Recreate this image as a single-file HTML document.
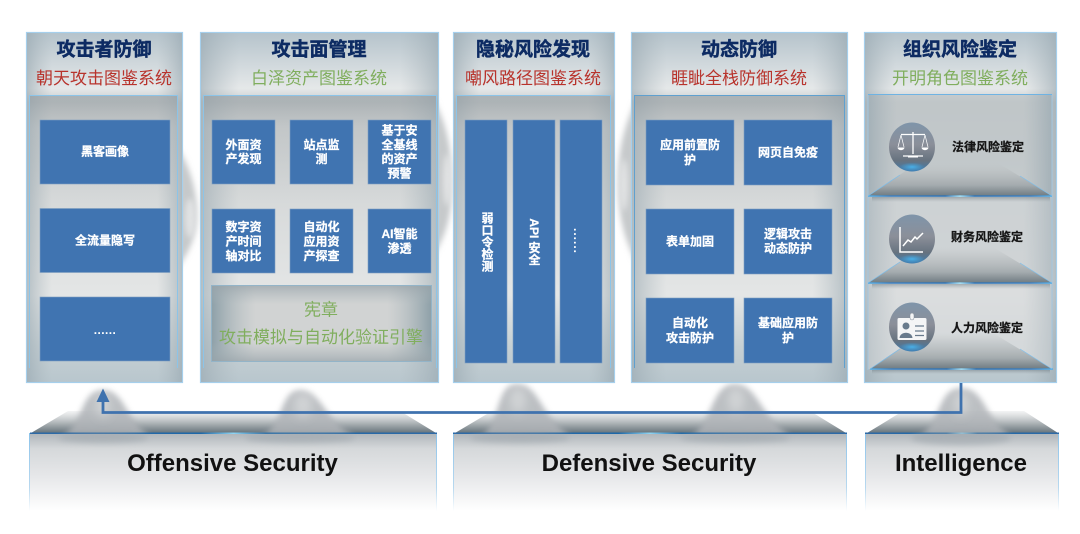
<!DOCTYPE html>
<html lang="zh"><head><meta charset="utf-8">
<style>
html,body{margin:0;padding:0;background:#fff;width:1080px;height:534px;overflow:hidden}
svg{display:block}
text{font-family:"Liberation Sans","Noto Sans CJK SC",sans-serif;text-anchor:middle;dominant-baseline:central}
.h{font-size:19px;font-weight:700;fill:#0d2b63;stroke:#0d2b63;stroke-width:.45}
.r{font-size:17px;fill:#b8332c}
.g{font-size:17px;fill:#80ae5e}
.w{font-size:12px;font-weight:700;fill:#fff;stroke:#fff;stroke-width:.25}
.k{font-size:12px;font-weight:700;fill:#151515;stroke:#151515;stroke-width:.25}
.e{font-size:24px;font-weight:700;fill:#111;dominant-baseline:auto}
.v{writing-mode:vertical-rl;font-size:12px;font-weight:700;fill:#fff;stroke:#fff;stroke-width:.25}
.b{fill:#4074b1;stroke:#7f9fc0;stroke-width:.6}
</style></head><body>
<svg width="1080" height="534" viewBox="0 0 1080 534" xmlns="http://www.w3.org/2000/svg">
<defs>
<filter id="b5" x="-60%" y="-60%" width="220%" height="220%"><feGaussianBlur stdDeviation="5"/></filter>
<filter id="b3" x="-60%" y="-60%" width="220%" height="220%"><feGaussianBlur stdDeviation="3"/></filter>
<linearGradient id="pv" x1="0" y1="0" x2="0" y2="1">
<stop offset="0" stop-color="#b5c3cb"/><stop offset=".16" stop-color="#e5e8e9"/><stop offset=".2" stop-color="#c8cccd"/><stop offset=".75" stop-color="#e4e6e6"/><stop offset=".9" stop-color="#c6d0d4"/><stop offset="1" stop-color="#b8c6cd"/>
</linearGradient>
<linearGradient id="ph" x1="0" y1="0" x2="1" y2="0">
<stop offset="0" stop-color="#96a6af" stop-opacity=".6"/><stop offset=".16" stop-color="#a9b5bb" stop-opacity="0"/><stop offset=".84" stop-color="#a9b5bb" stop-opacity="0"/><stop offset="1" stop-color="#96a6af" stop-opacity=".6"/>
</linearGradient>
<linearGradient id="it" x1="0" y1="0" x2="0" y2="1">
<stop offset="0" stop-color="#8f989d" stop-opacity=".6"/><stop offset=".12" stop-color="#a7adb0" stop-opacity=".25"/><stop offset=".4" stop-color="#a7adb0" stop-opacity="0"/>
</linearGradient>
<linearGradient id="st" x1="0" y1="0" x2="0" y2="1">
<stop offset="0" stop-color="#c4c8cb" stop-opacity=".2"/><stop offset=".55" stop-color="#aeb4b7"/><stop offset="1" stop-color="#66737b"/>
</linearGradient>
<linearGradient id="pf" x1="0" y1="0" x2="0" y2="1">
<stop offset="0" stop-color="#c4c8cb" stop-opacity="0"/><stop offset=".3" stop-color="#bcc1c3" stop-opacity=".7"/><stop offset=".7" stop-color="#a4abae"/><stop offset="1" stop-color="#6f7b82"/>
</linearGradient>
<linearGradient id="ft" x1="0" y1="0" x2="0" y2="1">
<stop offset="0" stop-color="#aeb4b9"/><stop offset=".2" stop-color="#d5d8da"/><stop offset=".55" stop-color="#e6e7e9"/><stop offset="1" stop-color="#ffffff"/>
</linearGradient>
<linearGradient id="fe" x1="0" y1="0" x2="0" y2="1">
<stop offset="0" stop-color="#8cc3ea"/><stop offset=".7" stop-color="#b7d8ef"/><stop offset="1" stop-color="#fff"/>
</linearGradient>
<linearGradient id="gl" x1="0" y1="0" x2="1" y2="0">
<stop offset="0" stop-color="#2f6aa6"/><stop offset=".42" stop-color="#1d68a8"/><stop offset=".5" stop-color="#8fd4f2"/><stop offset=".58" stop-color="#1d68a8"/><stop offset="1" stop-color="#2f6aa6"/>
</linearGradient>
<linearGradient id="gl2" x1="0" y1="0" x2="1" y2="0">
<stop offset="0" stop-color="#55aee6"/><stop offset=".12" stop-color="#3c7fc0"/><stop offset=".42" stop-color="#2f73b4"/><stop offset=".5" stop-color="#9adcf6"/><stop offset=".58" stop-color="#2f73b4"/><stop offset=".88" stop-color="#3c7fc0"/><stop offset="1" stop-color="#55aee6"/>
</linearGradient>
<linearGradient id="ic" x1="0" y1="0" x2="0" y2="1">
<stop offset="0" stop-color="#7f95aa"/><stop offset=".45" stop-color="#8b8f99"/><stop offset=".78" stop-color="#66727f"/><stop offset="1" stop-color="#3f7cb0"/>
</linearGradient>
<radialGradient id="ig" cx=".5" cy=".5" r=".5"><stop offset="0" stop-color="#4ab0e8"/><stop offset="1" stop-color="#41a7e2" stop-opacity="0"/></radialGradient>
<linearGradient id="sd" x1="0" y1="0" x2="0" y2="1"><stop offset="0" stop-color="#77838a" stop-opacity=".55"/><stop offset="1" stop-color="#8d989d" stop-opacity="0"/></linearGradient>
<linearGradient id="bh" x1="0" y1="0" x2="1" y2="0"><stop offset="0" stop-color="#869aa3" stop-opacity=".9"/><stop offset=".2" stop-color="#a9b5ba" stop-opacity="0"/><stop offset=".8" stop-color="#a9b5ba" stop-opacity="0"/><stop offset="1" stop-color="#869aa3" stop-opacity=".9"/></linearGradient>
<linearGradient id="bw" x1="0" y1="0" x2="0" y2="1"><stop offset="0" stop-color="#98a3a9" stop-opacity=".7"/><stop offset=".25" stop-color="#a9b5ba" stop-opacity="0"/><stop offset=".75" stop-color="#a9b5ba" stop-opacity="0"/><stop offset="1" stop-color="#98a3a9" stop-opacity=".7"/></linearGradient>
</defs>

<!-- gap arcs behind panels -->
<g fill="#c6c9cb" filter="url(#b3)">
<path d="M178 148C192 170 197 195 197 215C197 235 190 250 178 268Z"/>
<path d="M434 100C450 130 452 160 452 185C452 210 448 232 434 255Z"/>
<path d="M636 100C620 135 618 160 618 185C618 210 622 235 636 262Z"/>
</g>
<g fill="#eeeff0" opacity=".7" filter="url(#b3)">
<ellipse cx="190" cy="218" rx="5" ry="20"/>
<ellipse cx="447" cy="180" rx="4" ry="26"/>
<ellipse cx="624" cy="185" rx="4" ry="26"/>
</g>

<!-- stage trapezoids -->
<path d="M31 433L68 411H400L436 433Z" fill="url(#st)"/>
<path d="M455 433L492 411H810L846 433Z" fill="url(#st)"/>
<path d="M867 433L903 411H1024L1058 433Z" fill="url(#st)"/>

<!-- bumps above stage -->
<g fill="#b0b4b8" opacity=".85" filter="url(#b3)">
<path d="M62 436C84 424 80 390 103 390C126 390 126 424 152 436Z"/>
<path d="M262 436C284 424 280 390 300 390C322 390 326 424 356 436Z"/>
<path d="M482 436C502 418 496 384 517 384C540 384 540 418 572 436Z"/>
<path d="M692 436C714 418 712 384 735 384C758 384 760 418 792 436Z"/>
<path d="M920 436C942 420 938 388 961 388C986 388 984 420 1012 436Z"/>
</g>
<g fill="#e4e5e6" opacity=".55" filter="url(#b5)">
<ellipse cx="103" cy="405" rx="7" ry="12"/>
<ellipse cx="303" cy="405" rx="9" ry="12"/>
<ellipse cx="518" cy="400" rx="8" ry="13"/>
<ellipse cx="736" cy="400" rx="8" ry="13"/>
<ellipse cx="961" cy="403" rx="7" ry="12"/>
</g>

<!-- stage fronts -->
<rect x="29.500" y="433" width="407" height="78" fill="url(#ft)"/>
<rect x="453" y="433" width="393" height="78" fill="url(#ft)"/>
<rect x="865" y="433" width="193" height="78" fill="url(#ft)"/>
<g fill="url(#fe)">
<rect x="29" y="433" width="1" height="78"/><rect x="436" y="433" width="1" height="78"/>
<rect x="453" y="433" width="1" height="78"/><rect x="846" y="433" width="1" height="78"/>
<rect x="865" y="433" width="1" height="78"/><rect x="1058" y="433" width="1" height="78"/>
</g>
<rect x="30" y="432.500" width="407" height="1.500" fill="url(#gl)"/>
<rect x="453" y="432.500" width="394" height="1.500" fill="url(#gl)"/>
<rect x="865" y="432.500" width="194" height="1.500" fill="url(#gl)"/>
<g fill="#9ca4aa" opacity=".55" filter="url(#b3)">
<ellipse cx="103" cy="438" rx="45" ry="5"/><ellipse cx="300" cy="438" rx="55" ry="5"/>
<ellipse cx="520" cy="438" rx="50" ry="5"/><ellipse cx="735" cy="438" rx="55" ry="5"/><ellipse cx="961" cy="438" rx="50" ry="7"/>
</g>

<!-- panels -->
<g stroke="#a5cfec" stroke-width="1.200">
<rect x="26.500" y="32.500" width="156" height="350" fill="url(#pv)"/>
<rect x="200.500" y="32.500" width="238" height="350" fill="url(#pv)"/>
<rect x="453.500" y="32.500" width="161" height="350" fill="url(#pv)"/>
<rect x="631.500" y="32.500" width="216" height="350" fill="url(#pv)"/>
<rect x="864.500" y="32.500" width="192" height="350" fill="url(#pv)"/>
</g>
<g fill="url(#ph)">
<rect x="27" y="33" width="155" height="349"/><rect x="201" y="33" width="237" height="349"/><rect x="454" y="33" width="160" height="349"/><rect x="632" y="33" width="215" height="349"/><rect x="865" y="33" width="191" height="349"/>
</g>
<g fill="url(#it)">
<rect x="29.500" y="95.500" width="148" height="270"/>
<rect x="203.500" y="95.500" width="233" height="270"/>
<rect x="456.500" y="95.500" width="154" height="270"/>
<rect x="634.500" y="95.500" width="210" height="270"/>
</g>
<g fill="none" stroke="#8cc4e8" stroke-width="1">
<path d="M29.500 368V95.500H177.500V368"/>
<path d="M203.500 368V95.500H436.500V368"/>
<path d="M456.500 368V95.500H610.500V368"/>
<path d="M634.500 368V95.500H844.500V368" stroke="#5fa0cf"/>
</g>

<!-- titles -->
<text class="h" x="104" y="50">攻击者防御</text><text class="r" x="104" y="78.500">朝天攻击图鉴系统</text>
<text class="h" x="319" y="50">攻击面管理</text><text class="g" x="319" y="78.500">白泽资产图鉴系统</text>
<text class="h" x="533" y="50">隐秘风险发现</text><text class="r" x="533" y="78.500">嘲风路径图鉴系统</text>
<text class="h" x="739" y="50">动态防御</text><text class="r" x="739" y="78.500">睚眦全栈防御系统</text>
<text class="h" x="960" y="50">组织风险鉴定</text><text class="g" x="960" y="78.500">开明角色图鉴系统</text>

<!-- panel 1 -->
<rect class="b" x="40" y="120" width="130" height="64"/><rect class="b" x="40" y="208.500" width="130" height="64"/><rect class="b" x="40" y="297" width="130" height="64"/>
<text class="w" x="105" y="151.500">黑客画像</text><text class="w" x="105" y="240.500">全流量隐写</text>
<text x="105" y="330" style="font-size:12px;font-weight:700;fill:#fff;letter-spacing:.4px">......</text>

<!-- panel 2 -->
<g>
<rect class="b" x="212" y="120" width="63" height="64"/><rect class="b" x="290" y="120" width="63" height="64"/><rect class="b" x="368" y="120" width="63" height="64"/>
<rect class="b" x="212" y="209" width="63" height="64"/><rect class="b" x="290" y="209" width="63" height="64"/><rect class="b" x="368" y="209" width="63" height="64"/>
</g>
<text class="w" x="243.500" y="145">外面资</text><text class="w" x="243.500" y="159">产发现</text>
<text class="w" x="321.500" y="145">站点监</text><text class="w" x="321.500" y="159">测</text>
<text class="w" x="399.500" y="130.500">基于安</text><text class="w" x="399.500" y="145">全基线</text><text class="w" x="399.500" y="159">的资产</text><text class="w" x="399.500" y="173.500">预警</text>
<text class="w" x="243.500" y="227">数字资</text><text class="w" x="243.500" y="241.500">产时间</text><text class="w" x="243.500" y="256">轴对比</text>
<text class="w" x="321.500" y="227">自动化</text><text class="w" x="321.500" y="241.500">应用资</text><text class="w" x="321.500" y="256">产探查</text>
<text class="w" x="399.500" y="234">AI智能</text><text class="w" x="399.500" y="248.500">渗透</text>
<rect x="211.500" y="285.500" width="220" height="76" fill="#d1d3d3"/>
<rect x="211.500" y="285.500" width="220" height="76" fill="url(#bh)"/>
<rect x="211.500" y="285.500" width="220" height="76" fill="url(#bw)" stroke="#93b4c8"/>
<text class="g" x="321" y="310">宪章</text><text class="g" x="321" y="337.500">攻击模拟与自动化验证引擎</text>

<!-- panel 3 -->
<rect class="b" x="465" y="120" width="42" height="243"/><rect class="b" x="513" y="120" width="42" height="243"/><rect class="b" x="560" y="120" width="42" height="243"/>
<text class="v" x="487" y="242">弱口令检测</text>
<text class="v" x="534" y="242">API 安全</text>
<text class="v" x="578" y="241" style="letter-spacing:1px;stroke:none">......</text>

<!-- panel 4 -->
<rect class="b" x="646" y="120" width="88" height="65"/><rect class="b" x="744" y="120" width="88" height="65"/>
<rect class="b" x="646" y="209" width="88" height="65"/><rect class="b" x="744" y="209" width="88" height="65"/>
<rect class="b" x="646" y="298" width="88" height="65"/><rect class="b" x="744" y="298" width="88" height="65"/>
<text class="w" x="690" y="145">应用前置防</text><text class="w" x="690" y="160">护</text>
<text class="w" x="788" y="152.500">网页自免疫</text>
<text class="w" x="690" y="241.500">表单加固</text>
<text class="w" x="788" y="234">逻辑攻击</text><text class="w" x="788" y="248.500">动态防护</text>
<text class="w" x="690" y="323">自动化</text><text class="w" x="690" y="338">攻击防护</text>
<text class="w" x="788" y="323">基础应用防</text><text class="w" x="788" y="338">护</text>

<!-- panel 5 -->
<rect x="868" y="94.500" width="184" height="102" fill="#bcc3c6" opacity=".7"/>
<rect x="868" y="94.500" width="184" height="102" fill="url(#ph)"/>
<rect x="868" y="197" width="184" height="86" fill="#cbd0d2" opacity=".8"/>
<rect x="868" y="197" width="184" height="86" fill="url(#ph)" opacity=".6"/>
<rect x="868" y="284" width="184" height="85" fill="#d8dbdc" opacity=".8"/>
<rect x="868" y="284" width="184" height="85" fill="url(#ph)" opacity=".5"/>
<g fill="none" stroke="#a2c6df" stroke-width="1"><path d="M868 94.500V370M1052 94.500V370"/></g>
<path d="M868 94.500H1052" stroke="#6fb3e3" stroke-width="1"/>
<!-- platforms -->
<g>
<path d="M868 196L922 160H993L1052 196Z" fill="url(#pf)"/>
<path d="M868 283L922 247H993L1052 283Z" fill="url(#pf)"/>
<path d="M870 369L922 333H993L1052 369Z" fill="url(#pf)"/>
<rect x="872" y="197" width="178" height="5" fill="url(#sd)"/>
<rect x="872" y="284" width="178" height="5" fill="url(#sd)"/>
<rect x="872" y="370" width="178" height="4" fill="url(#sd)"/>
<rect x="868" y="195.300" width="184" height="1.500" fill="url(#gl2)"/>
<rect x="868" y="282.300" width="184" height="1.500" fill="url(#gl2)"/>
<rect x="870" y="368.300" width="183" height="1.500" fill="url(#gl2)"/>
<path d="M868 196L900 175M1052 196L1020 176M868 283L900 262M1052 283L1020 263M870 369L900 349M1052 369L1020 349" stroke="#7cbdea" stroke-width=".7" fill="none"/>
</g>
<!-- icons -->
<g>
<ellipse cx="912" cy="147" rx="23" ry="24.500" fill="url(#ic)"/><ellipse cx="912" cy="167" rx="13" ry="4.500" fill="url(#ig)"/>
<ellipse cx="912" cy="239" rx="23" ry="24.500" fill="url(#ic)"/><ellipse cx="912" cy="259" rx="13" ry="4.500" fill="url(#ig)"/>
<ellipse cx="912" cy="327" rx="23" ry="24.500" fill="url(#ic)"/><ellipse cx="912" cy="347" rx="13" ry="4.500" fill="url(#ig)"/>
</g>
<!-- scale icon -->
<g stroke="#fff" fill="none" stroke-width="1.300">
<path d="M913 132V154M901 134.500H925M903 156H923" />
<path d="M901 135L898 147M901 135L904 147M925 135L922 147M925 135L928 147" stroke-width=".7"/>
<path d="M897.500 147.500H904.500C904 151 898 151 897.500 147.500ZM921.500 147.500H928.500C928 151 922 151 921.500 147.500Z" fill="#fff" stroke="none"/>
<path d="M908 156.500H918" stroke-width="2"/>
</g>
<!-- chart icon -->
<g fill="none" stroke="#fff">
<path d="M900 227V252H923" stroke-width="1.500"/>
<path d="M903 246L908 240L911 242L915 237L917 239L923 233" stroke-width="1.500"/>
</g>
<!-- id icon -->
<g>
<rect x="897.500" y="318" width="29" height="22" rx="1.500" fill="#f4f5f6"/>
<rect x="910" y="313" width="4" height="7" rx="2" fill="#f4f5f6" stroke="#7c8794" stroke-width=".5"/>
<circle cx="906" cy="326" r="3.500" fill="#687a8c"/><path d="M899.500 338C900 331 912 331 912.500 338Z" fill="#687a8c"/>
<path d="M915 326H924M915 331H924M915 335.500H924" stroke="#687a8c" stroke-width="1.300"/>
</g>
<text class="k" x="988" y="147">法律风险鉴定</text>
<text class="k" x="987" y="237">财务风险鉴定</text>
<text class="k" x="987" y="328">人力风险鉴定</text>

<!-- connector -->
<path d="M961 383V412.500H103V400" fill="none" stroke="#3f72ae" stroke-width="2.800"/>
<path d="M103 388.500L109.500 402H96.500Z" fill="#3f72ae"/>

<text class="e" x="232.500" y="471">Offensive Security</text>
<text class="e" x="649" y="471">Defensive Security</text>
<text class="e" x="961" y="471">Intelligence</text>
</svg>
</body></html>
